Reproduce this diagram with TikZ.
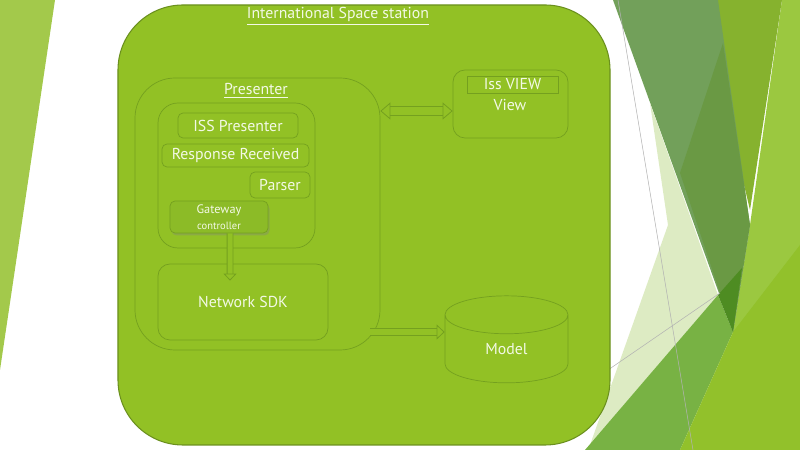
\documentclass[tikz,border=0pt]{standalone}
\usepackage{fontspec}
\setmainfont{PT Sans}
\usetikzlibrary{arrows.meta,shapes.geometric,shadows}
\definecolor{issg}{HTML}{92C125}
\definecolor{issd}{HTML}{6B901E}
\definecolor{boxl}{HTML}{74A01F}
\definecolor{txtc}{HTML}{F3F9E6}
\definecolor{gwf}{HTML}{8CBB27}
\definecolor{decl}{HTML}{A3C94B}
\definecolor{decm}{HTML}{86B22E}
\definecolor{decd}{HTML}{72A05A}
\definecolor{decdd}{HTML}{6A9944}
\definecolor{decx}{HTML}{4E8C22}
\definecolor{decp}{HTML}{DDEBC3}
\definecolor{decb}{HTML}{78B244}
\definecolor{decr}{HTML}{92C12B}
\definecolor{decs}{HTML}{9BC840}
\tikzset{
  issbox/.style={draw=issd,fill=issg,line width=0.6pt,rounded corners=13mm,
    minimum width=98.4mm,minimum height=88mm},
  grp/.style={draw=boxl,line width=0.4pt},
  part/.style={draw=boxl,line width=0.4pt,rounded corners=1mm,text=txtc,
    font=\fontsize{9}{10}\selectfont,inner sep=0pt},
  lbl/.style={text=txtc,font=\fontsize{9}{10}\selectfont,inner sep=0pt},
  gate/.style={part,fill=gwf,align=center,
    drop shadow={shadow xshift=0.3mm,shadow yshift=-0.5mm,opacity=0.35}},
  cyl/.style={cylinder,shape border rotate=90,aspect=0.9,draw=boxl,
    line width=0.4pt,text=txtc,font=\fontsize{9}{10}\selectfont,
    minimum width=24.6mm,minimum height=17.4mm,inner sep=0pt},
  blk/.style={draw=boxl,line width=0.45pt,double=issg},
  arrG/.style={blk,double distance=1mm,
    -{Triangle[length=1.4mm,width=2.6mm,line width=0.45pt,fill=issg]}},
  arrV/.style={blk,double distance=1.5mm,
    {Triangle[length=2mm,width=3.4mm,line width=0.45pt,fill=issg]}-{Triangle[length=2mm,width=3.4mm,line width=0.45pt,fill=issg]}},
  arrM/.style={blk,double distance=1.3mm,
    -{Triangle[length=1.6mm,width=3mm,line width=0.45pt,fill=issg]}},
  gline/.style={draw=black!30,line width=0.3pt},
}
\begin{document}
\begin{tikzpicture}[x=0.2mm,y=-0.2mm]
  \useasboundingbox (0,0) rectangle (800,450);
  % slide background
  \fill[decl] (0,0) -- (55,0) -- (0,370) -- cycle;
  \fill[decs] (782,0) -- (800,0) -- (800,450) -- (733,332) -- (750,225) -- cycle;
  \fill[decm] (700,0) -- (782,0) -- (750,210) -- cycle;
  \fill[decd] (613,0) -- (718,0) -- (750,225) -- (733,332) -- cycle;
  \fill[decdd] (723,43) -- (750,225) -- (733,332) -- (680,173) -- cycle;
  \fill[decp] (650,103) -- (718,295) -- (590,445) -- (668,225) -- cycle;
  \fill[decb] (585,450) -- (718,295) -- (733,332) -- (680,450) -- cycle;
  \fill[decr] (680,450) -- (733,332) -- (800,245) -- (800,450) -- cycle;
  \fill[decx] (718,295) -- (742,268) -- (733,332) -- cycle;
  \draw[gline] (618,0) -- (693,450);
  \draw[gline] (608,370) -- (720,293);

  % containers
  \node[issbox] (iss) at (364,225) {};
  \node[lbl] (isst) at (338,16) {\underline{International Space station}};
  \node[grp,rounded corners=8mm,minimum width=49mm,minimum height=54.4mm] (pres) at (257.5,214) {};
  \node[lbl] (prest) at (256,91) {\underline{Presenter}};
  \node[grp,rounded corners=4mm,minimum width=31.4mm,minimum height=29mm] (inner) at (236.5,175.5) {};

  % presenter parts
  \node[part,minimum width=24mm,minimum height=5mm] (issp) at (238,125.5) {ISS Presenter};
  \node[part,minimum width=29.4mm,minimum height=4.6mm] (resp) at (235.5,155.5) {Response Received};
  \node[part,minimum width=12mm,minimum height=5.2mm] (pars) at (280,185) {Parser};
  \node[gate,minimum width=19.6mm,minimum height=6.4mm] (gw) at (219,217)
    {{\fontsize{7}{8}\selectfont Gateway}\\[-1pt]{\fontsize{6}{7}\selectfont controller}};
  \node[part,rounded corners=2.4mm,minimum width=34mm,minimum height=15.2mm] (sdk) at (243,302) {Network SDK};

  % view and model
  \node[part,rounded corners=2.4mm,minimum width=23mm,minimum height=13.6mm] (view) at (510.5,104) {};
  \node[part,rounded corners=0pt,minimum width=18.2mm,minimum height=3.4mm] (issv) at (512.5,84.5) {Iss VIEW};
  \node[lbl] (viewt) at (510,105) {View};
  \node[cyl] (model) at (506.5,349) {Model};

  % connectors
  \coordinate (vIn) at ([yshift=-1.4mm]view.west);
  \coordinate (pOut) at (vIn -| pres.east);
  \coordinate (mIn) at ([yshift=3.4mm]model.west);
  \coordinate (pLow) at ([xshift=-2mm]mIn -| pres.east);
  \draw[arrG] ([xshift=2.2mm]gw.south) -- ([xshift=-2.6mm,yshift=-3.4mm]sdk.north);
  \draw[arrV] (pOut) -- (vIn);
  \draw[arrM] (pLow) -- (mIn);
\end{tikzpicture}
\end{document}
